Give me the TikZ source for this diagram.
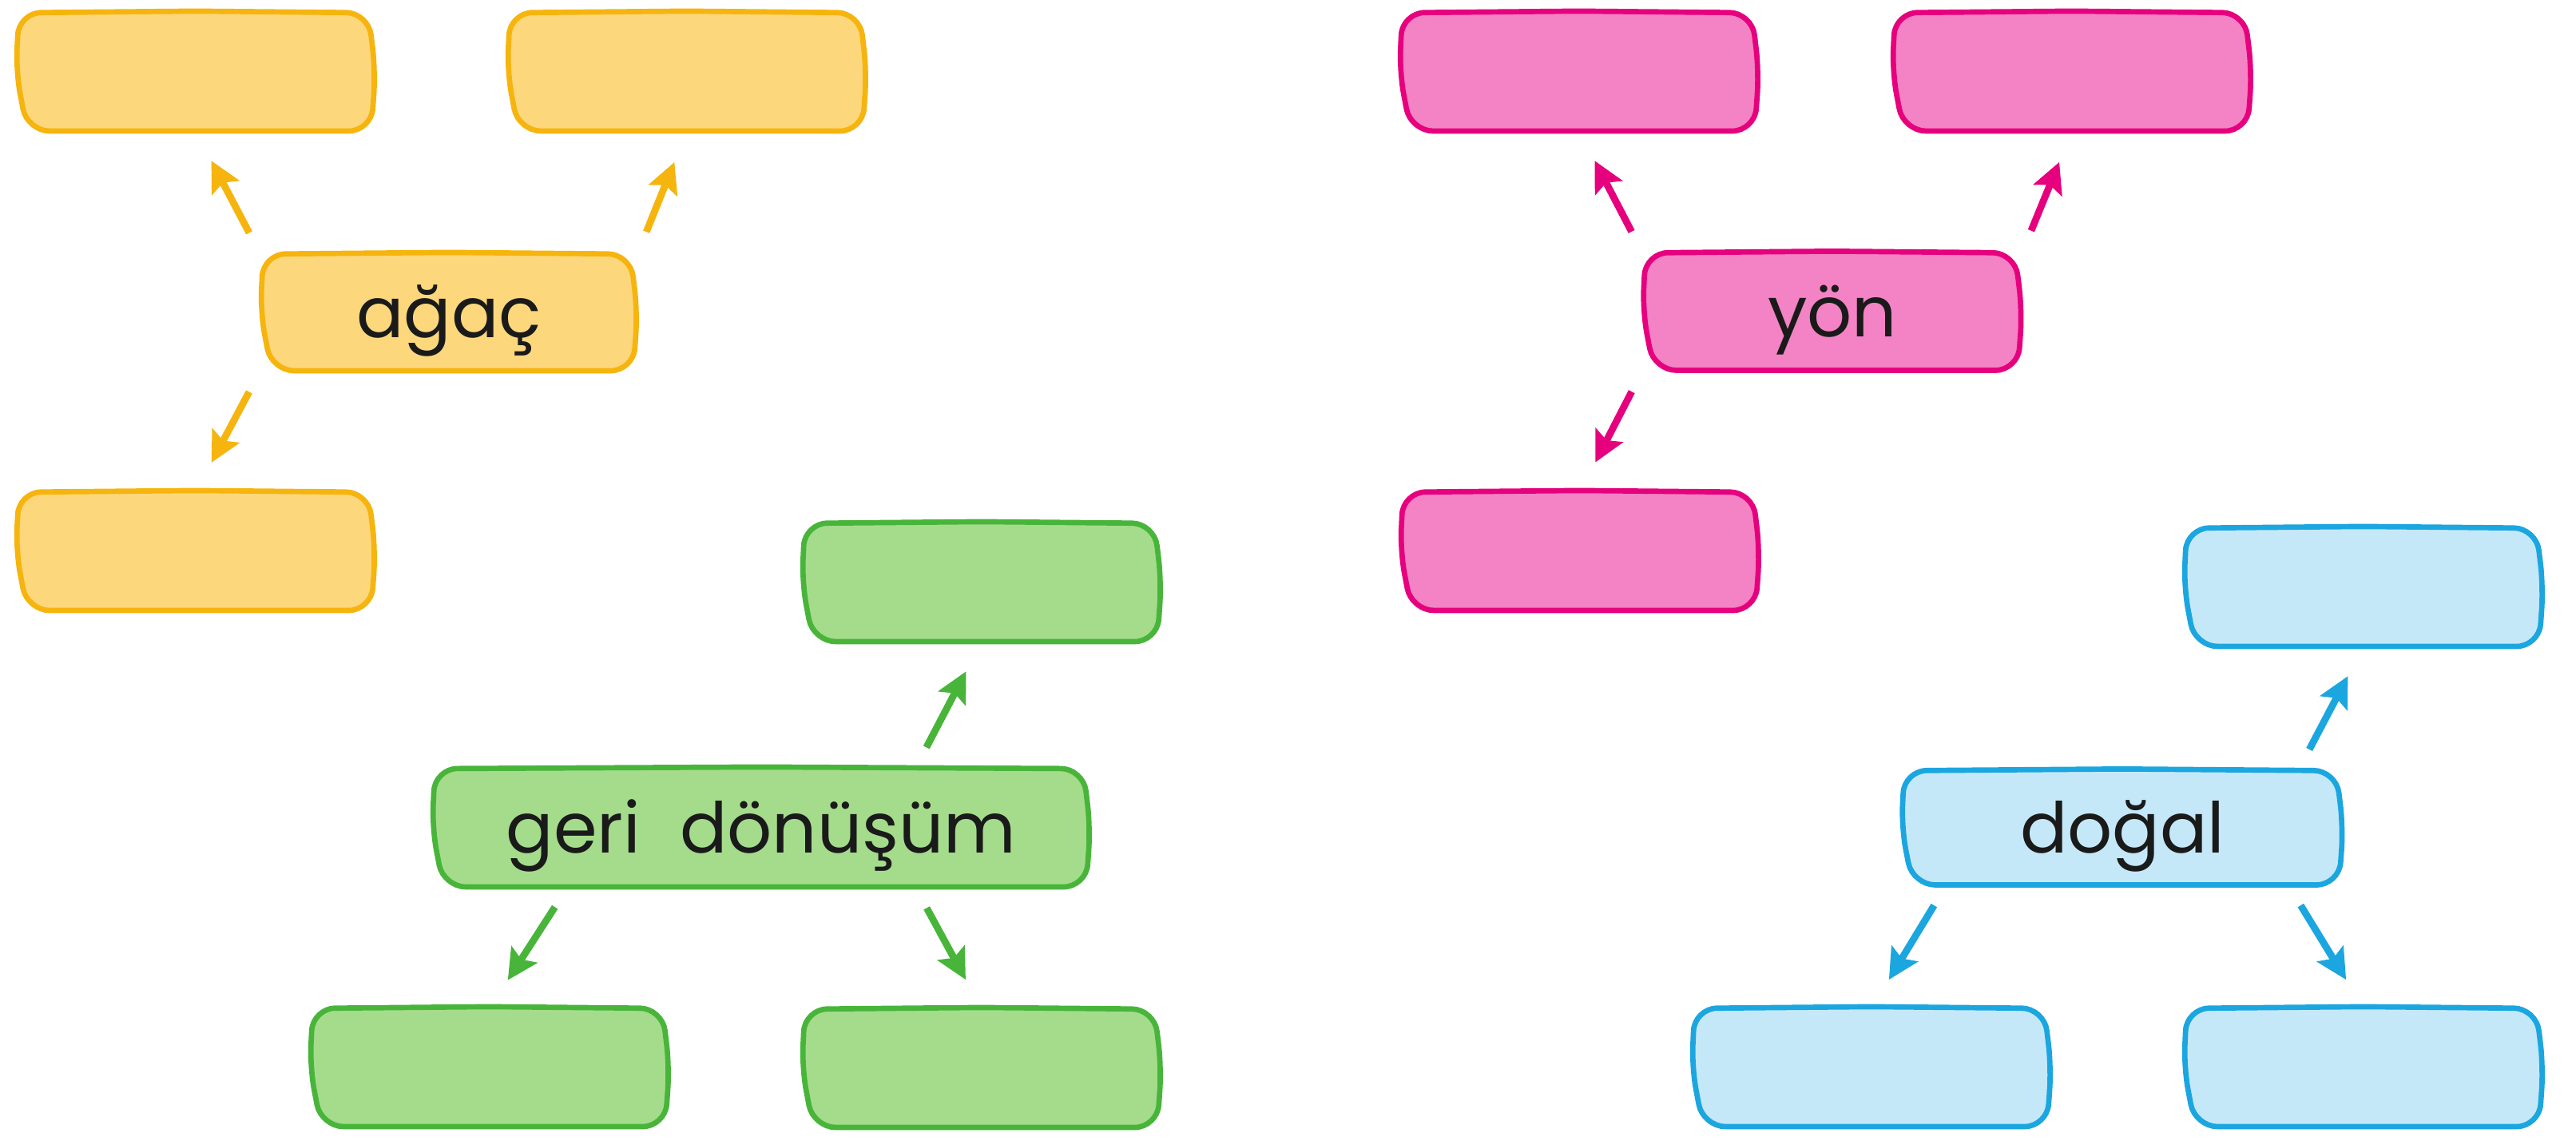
\documentclass[tikz,border=0pt]{standalone}
\usepackage{fontspec}
\setmainfont{Poppins}
\usepackage{xcolor}
\usetikzlibrary{arrows.meta, calc, backgrounds}
\definecolor{sunline}{RGB}{246, 180, 14}
\definecolor{sunfill}{RGB}{253, 215, 124}
\definecolor{leafline}{RGB}{72, 181, 58}
\definecolor{leaffill}{RGB}{164, 220, 140}
\definecolor{roseline}{RGB}{230, 0, 126}
\definecolor{rosefill}{RGB}{243, 131, 196}
\definecolor{skyline}{RGB}{27, 166, 224}
\definecolor{skyfill}{RGB}{197, 232, 248}
\definecolor{inkcolor}{RGB}{26, 26, 26}

\tikzset{
    card/.style={minimum width=4.5cm, minimum height=1.48cm, inner sep=0pt, outer sep=0pt,
        text=inkcolor, font=\fontsize{25}{30}\selectfont, text height=24pt, text depth=6pt},
    link/.style={line width=2.5pt, -{Stealth[length=3.8mm, width=3.8mm, inset=0.7mm]},
        shorten <=3mm, shorten >=4.2mm}
}

\begin{document}
\begin{tikzpicture}
    \useasboundingbox (0,0) rectangle (32.25,-14.33);

    % Yellow group
    \node[card] (ytl) at (2.45,-0.90) {};
    \node[card] (ytr) at (8.60,-0.90) {};
    \node[card] (ybl) at (2.45,-6.90) {};
    \node[card, minimum width=4.72cm, minimum height=1.46cm] (agac) at (5.62,-3.91) {ağaç};

    % Green group
    \node[card] (gtr) at (12.29,-7.29) {};
    \node[card] (gbl) at (6.13,-13.36) {};
    \node[card] (gbr) at (12.29,-13.37) {};
    \node[card, minimum width=8.24cm] (geri) at (9.53,-10.36) {geri\hspace{0.56em}dönüşüm};

    % Pink group
    \node[card] (ptl) at (19.77,-0.90) {};
    \node[card] (ptr) at (25.94,-0.90) {};
    \node[card] (pbl) at (19.78,-6.90) {};
    \node[card, minimum width=4.75cm, minimum height=1.47cm] (yon) at (22.94,-3.90) {yön};

    % Blue group
    \node[card] (btr) at (29.59,-7.35) {};
    \node[card] (bbl) at (23.43,-13.36) {};
    \node[card] (bbr) at (29.59,-13.36) {};
    \node[card, minimum width=5.53cm, minimum height=1.43cm] (dogal) at (26.57,-10.36) {doğal};

    % Card outlines, bowed sides
    \begin{scope}[on background layer]
    \foreach \n/\d/\f in {ytl/sunline/sunfill, ytr/sunline/sunfill, ybl/sunline/sunfill, agac/sunline/sunfill,
                          gtr/leafline/leaffill, gbl/leafline/leaffill, gbr/leafline/leaffill, geri/leafline/leaffill,
                          ptl/roseline/rosefill, ptr/roseline/rosefill, pbl/roseline/rosefill, yon/roseline/rosefill,
                          btr/skyline/skyfill, bbl/skyline/skyfill, bbr/skyline/skyfill, dogal/skyline/skyfill} {
        \draw[line width=1.9pt, draw=\d, fill=\f, rounded corners=8pt]
            ($(\n.north west)+(1pt,0)$) -- ($(\n.north)+(0,0.6pt)$) -- ($(\n.north east)+(-2.5pt,0)$)
            -- (\n.east) -- ($(\n.south east)+(-1.5pt,0)$)
            -- ($(\n.south west)+(4pt,0)$) -- (\n.west) -- cycle;
    }
    \end{scope}

    % Arrows
    \draw[link, sunline] (agac.north west) -- (ytl.south);
    \draw[link, sunline] (agac.north east) -- (ytr.south);
    \draw[link, sunline] (agac.south west) -- (ybl.north);

    \draw[link, leafline] (geri.21) -- (gtr.south);
    \draw[link, leafline] (geri.197) -- (gbl.north);
    \draw[link, leafline] (geri.-21) -- (gbr.north);

    \draw[link, roseline] (yon.north west) -- (ptl.south);
    \draw[link, roseline] (yon.north east) -- (ptr.south);
    \draw[link, roseline] (yon.south west) -- (pbl.north);

    \draw[link, skyline] (dogal.18) -- (btr.south);
    \draw[link, skyline] (dogal.198) -- (bbl.north);
    \draw[link, skyline] (dogal.-19) -- (bbr.north);

\end{tikzpicture}
\end{document}
